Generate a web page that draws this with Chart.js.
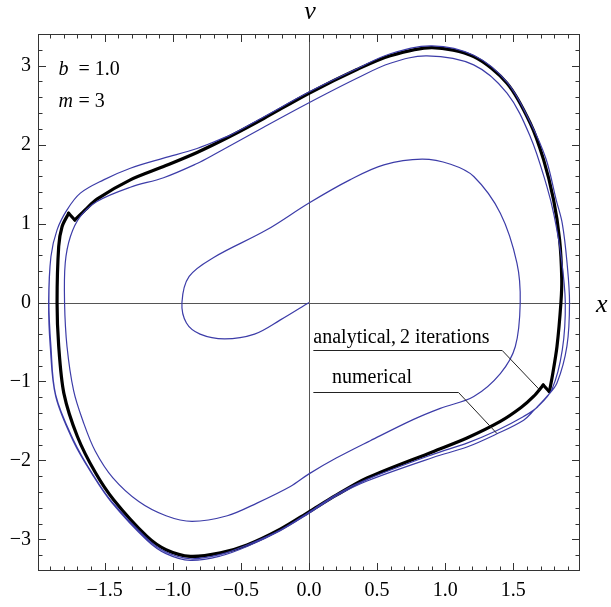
<!DOCTYPE html>
<html>
<head>
<meta charset="utf-8">
<script src="https://cdn.jsdelivr.net/npm/chart.js@4.4.1/dist/chart.umd.min.js"></script>
<style>
  body { margin: 0; background: #fff; }
  canvas { display: block; }
</style>
</head>
<body>
<canvas id="phaseChart" width="611" height="607"></canvas>
<script>
// numerical solution (spiral from the origin out to the limit cycle)
const numericalX = [
    0, -0.21, -0.40, -0.62, -0.80, -0.90, -0.933, -0.88, -0.70, -0.31, 0, 0.30, 0.55, 0.83, 1.04, 1.21, 1.405, 1.527, 1.551, 1.515, 1.405, 1.21, 0.964, 0.768, 0.45, 0.2, 0,
    -0.137, -0.382, -0.60, -0.859, -1.05, -1.25, -1.44, -1.57, -1.66, -1.728, -1.777, -1.795, -1.79, -1.752, -1.679, -1.557, -1.312, -1.068, -0.822, -0.70, -0.333, 0, 0.352, 0.597, 0.866, 1.209, 1.454, 1.625, 1.747, 1.80, 1.85, 1.882,
    1.86, 1.784, 1.68, 1.576, 1.38, 1.16, 0.915, 0.426, 0.2, 0, -0.211, -0.455, -0.65, -0.871, -1.05, -1.19, -1.45, -1.59, -1.73, -1.86, -1.895, -1.91,
    -1.895, -1.85, -1.777, -1.679, -1.508, -1.312, -1.068, -0.822, -0.578, -0.333, 0, 0.352, 0.597, 0.903, 1.209, 1.454, 1.625, 1.74, 1.815, 1.86, 1.895, 1.913,
    1.894, 1.821, 1.747, 1.649, 1.576, 1.38, 1.16, 0.915, 0.426, 0.2, 0, -0.211, -0.455, -0.65, -0.871, -1.05, -1.19, -1.45, -1.59, -1.73, -1.86, -1.9, -1.912,
    -1.895, -1.85, -1.777, -1.679, -1.508, -1.312, -1.068, -0.822, -0.578
];
const numericalV = [
    0, -0.22, -0.40, -0.46, -0.40, -0.26, 0, 0.33, 0.57, 0.92, 1.26, 1.553, 1.743, 1.815, 1.75, 1.595, 1.13, 0.50, 0, -0.557, -0.90, -1.19, -1.34, -1.48, -1.75, -1.97, -2.17,
    -2.33, -2.54, -2.70, -2.772, -2.70, -2.52, -2.22, -1.88, -1.50, -1.12, -0.557, 0, 0.5, 0.835, 1.09, 1.28, 1.46, 1.58, 1.76, 1.87, 2.22, 2.53, 2.84, 3.03, 3.123, 3.009, 2.65, 2.10, 1.468, 1.10, 0.60, 0,
    -0.6, -1.10, -1.32, -1.443, -1.62, -1.78, -1.92, -2.24, -2.43, -2.655, -2.88, -3.07, -3.19, -3.245, -3.16, -2.99, -2.52, -2.17, -1.74, -1.17, -0.557, 0,
    0.583, 0.92, 1.173, 1.385, 1.553, 1.70, 1.828, 1.95, 2.12, 2.35, 2.665, 2.96, 3.15, 3.25, 3.13, 2.79, 2.28, 1.82, 1.30, 1.0, 0.5, 0,
    -0.553, -1.02, -1.19, -1.37, -1.49, -1.663, -1.83, -1.96, -2.26, -2.45, -2.67, -2.89, -3.09, -3.21, -3.266, -3.18, -3.01, -2.53, -2.18, -1.76, -1.19, -0.557, 0,
    0.583, 0.92, 1.173, 1.385, 1.553, 1.70, 1.828, 1.95, 2.12
];

// analytical approximation, 2 iterations: two smooth arcs meeting at two kinks
const analyticTopX = [-1.72, -1.64, -1.557, -1.312, -1.068, -0.822, -0.578, -0.333, 0, 0.352, 0.597, 0.903, 1.209, 1.454, 1.625, 1.723, 1.796, 1.84, 1.856, 1.85, 1.821, 1.785, 1.765];
const analyticTopV = [1.045, 1.18, 1.31, 1.553, 1.722, 1.90, 2.105, 2.33, 2.65, 2.95, 3.125, 3.228, 3.114, 2.777, 2.27, 1.806, 1.30, 0.8, 0.3, 0, -0.557, -0.95, -1.13];
const analyticBottomX = [1.72, 1.649, 1.557, 1.405, 1.16, 0.915, 0.426, 0.2, 0, -0.211, -0.455, -0.65, -0.871, -1.05, -1.19, -1.435, -1.57, -1.70, -1.80, -1.838, -1.85, -1.838, -1.813, -1.765];
const analyticBottomV = [-1.045, -1.19, -1.33, -1.506, -1.716, -1.886, -2.223, -2.44, -2.65, -2.87, -3.07, -3.17, -3.215, -3.13, -2.962, -2.497, -2.15, -1.70, -1.15, -0.553, 0, 0.709, 0.962, 1.13];
const leftKinkX = [-1.765, -1.72];
const leftKinkV = [1.13, 1.045];
const rightKinkX = [1.765, 1.72];
const rightKinkV = [-1.13, -1.045];

const xTicks = [-1.5, -1.0, -0.5, 0, 0.5, 1.0, 1.5];
const vTicks = [-3, -2, -1, 0, 1, 2, 3];

const serif = '"Liberation Serif", "DejaVu Serif", serif';
const blue = '#3c3ca8';

const toPoints = (xs, vs) => xs.map((x, i) => ({ x: x, y: vs[i] }));
const minusSign = s => s.replace('-', '\u2212');

const blackLine = (label, xs, vs, tension) => ({
    label: label,
    data: toPoints(xs, vs),
    showLine: true,
    borderColor: '#000',
    borderWidth: 3.2,
    borderCapStyle: 'round',
    borderJoinStyle: 'miter',
    pointRadius: 0,
    tension: tension,
    fill: false
});

const framePlugin = {
    id: 'framePlugin',
    beforeDatasetsDraw(chart) {
        const { ctx, chartArea: a, scales } = chart;
        const x0 = Math.round(scales.x.getPixelForValue(0)) + 0.5;
        const y0 = Math.round(scales.y.getPixelForValue(0)) + 0.5;
        ctx.save();
        ctx.strokeStyle = '#555';
        ctx.lineWidth = 1;
        ctx.beginPath();
        ctx.moveTo(x0, a.top);
        ctx.lineTo(x0, a.bottom);
        ctx.moveTo(a.left, y0);
        ctx.lineTo(a.right, y0);
        ctx.stroke();
        ctx.restore();
    },
    afterDraw(chart) {
        const { ctx, chartArea: a, scales } = chart;
        const sx = scales.x, sy = scales.y;
        ctx.save();
        ctx.strokeStyle = '#333';
        ctx.lineWidth = 1;
        ctx.strokeRect(a.left + 0.5, a.top + 0.5, a.right - a.left - 1, a.bottom - a.top - 1);

        // ticks pointing inward on all four sides
        ctx.beginPath();
        for (let i = -19; i <= 19; i++) {
            const px = Math.round(sx.getPixelForValue(i / 10)) + 0.5;
            const len = i % 5 === 0 ? 8 : 4.5;
            ctx.moveTo(px, a.bottom);
            ctx.lineTo(px, a.bottom - len);
            ctx.moveTo(px, a.top);
            ctx.lineTo(px, a.top + len);
        }
        for (let i = -16; i <= 16; i++) {
            const py = Math.round(sy.getPixelForValue(i / 5)) + 0.5;
            const len = i % 5 === 0 ? 8 : 4.5;
            ctx.moveTo(a.left, py);
            ctx.lineTo(a.left + len, py);
            ctx.moveTo(a.right, py);
            ctx.lineTo(a.right - len, py);
        }
        ctx.stroke();

        // axis names
        ctx.fillStyle = '#000';
        ctx.font = 'italic 26px ' + serif;
        ctx.textAlign = 'center';
        ctx.textBaseline = 'alphabetic';
        ctx.fillText('v', sx.getPixelForValue(0) + 1, 19);
        ctx.textAlign = 'left';
        ctx.fillText('x', a.right + 16, sy.getPixelForValue(0) + 9);

        // parameters
        const px0 = sx.getPixelForValue(-1.84);
        ctx.font = 'italic 20px ' + serif;
        ctx.fillText('b', px0, sy.getPixelForValue(2.88));
        ctx.fillText('m', px0, sy.getPixelForValue(2.47));
        ctx.font = '20px ' + serif;
        ctx.fillText('= 1.0', px0 + 20, sy.getPixelForValue(2.88));
        ctx.fillText('= 3', px0 + 20, sy.getPixelForValue(2.47));

        // labels with leader lines
        const leader = (pts) => {
            ctx.beginPath();
            pts.forEach((p, i) => {
                const X = sx.getPixelForValue(p[0]), Y = Math.round(sy.getPixelForValue(p[1])) + 0.5;
                if (i === 0) ctx.moveTo(X, Y); else ctx.lineTo(X, Y);
            });
            ctx.stroke();
        };
        ctx.strokeStyle = '#222';
        ctx.font = '20px ' + serif;
        ctx.fillText('analytical,\u20092 iterations', sx.getPixelForValue(0.032), sy.getPixelForValue(-0.51));
        leader([[0.032, -0.60], [1.419, -0.60], [1.698, -1.105]]);
        ctx.fillText('numerical', sx.getPixelForValue(0.169), sy.getPixelForValue(-1.023));
        leader([[0.032, -1.134], [1.098, -1.134], [1.38, -1.65]]);
        ctx.restore();
    }
};

const ctx = document.getElementById('phaseChart').getContext('2d');

const phaseChart = new Chart(ctx, {
    type: 'scatter',
    data: {
        datasets: [
            {
                label: 'numerical',
                data: toPoints(numericalX, numericalV),
                showLine: true,
                borderColor: blue,
                borderWidth: 1.2,
                pointRadius: 0,
                tension: 0.35,
                fill: false
            },
            blackLine('analytical, 2 iterations', analyticTopX, analyticTopV, 0.3),
            blackLine('analytical, 2 iterations (lower arc)', analyticBottomX, analyticBottomV, 0.3),
            blackLine('kink left', leftKinkX, leftKinkV, 0),
            blackLine('kink right', rightKinkX, rightKinkV, 0)
        ]
    },
    options: {
        responsive: false,
        animation: false,
        devicePixelRatio: 1,
        layout: { padding: { top: 34, right: 31, left: 0, bottom: 0 } },
        plugins: {
            legend: { display: false },
            tooltip: { enabled: false }
        },
        scales: {
            x: {
                type: 'linear',
                min: -1.99,
                max: 1.99,
                grid: { display: false, drawTicks: false },
                border: { display: false },
                ticks: {
                    color: '#000',
                    font: { family: serif, size: 20 },
                    padding: 8,
                    maxRotation: 0,
                    autoSkip: false,
                    callback: v => minusSign(Number(v).toFixed(1))
                },
                afterBuildTicks: s => { s.ticks = xTicks.map(v => ({ value: v })); },
                afterFit: s => { s.height = 36; }
            },
            y: {
                type: 'linear',
                min: -3.4,
                max: 3.4,
                grid: { display: false, drawTicks: false },
                border: { display: false },
                ticks: {
                    color: '#000',
                    font: { family: serif, size: 20 },
                    padding: 7,
                    autoSkip: false,
                    callback: v => minusSign(String(v))
                },
                afterBuildTicks: s => { s.ticks = vTicks.map(v => ({ value: v })); },
                afterFit: s => { s.width = 38; }
            }
        }
    },
    plugins: [framePlugin]
});
</script>
</body>
</html>
